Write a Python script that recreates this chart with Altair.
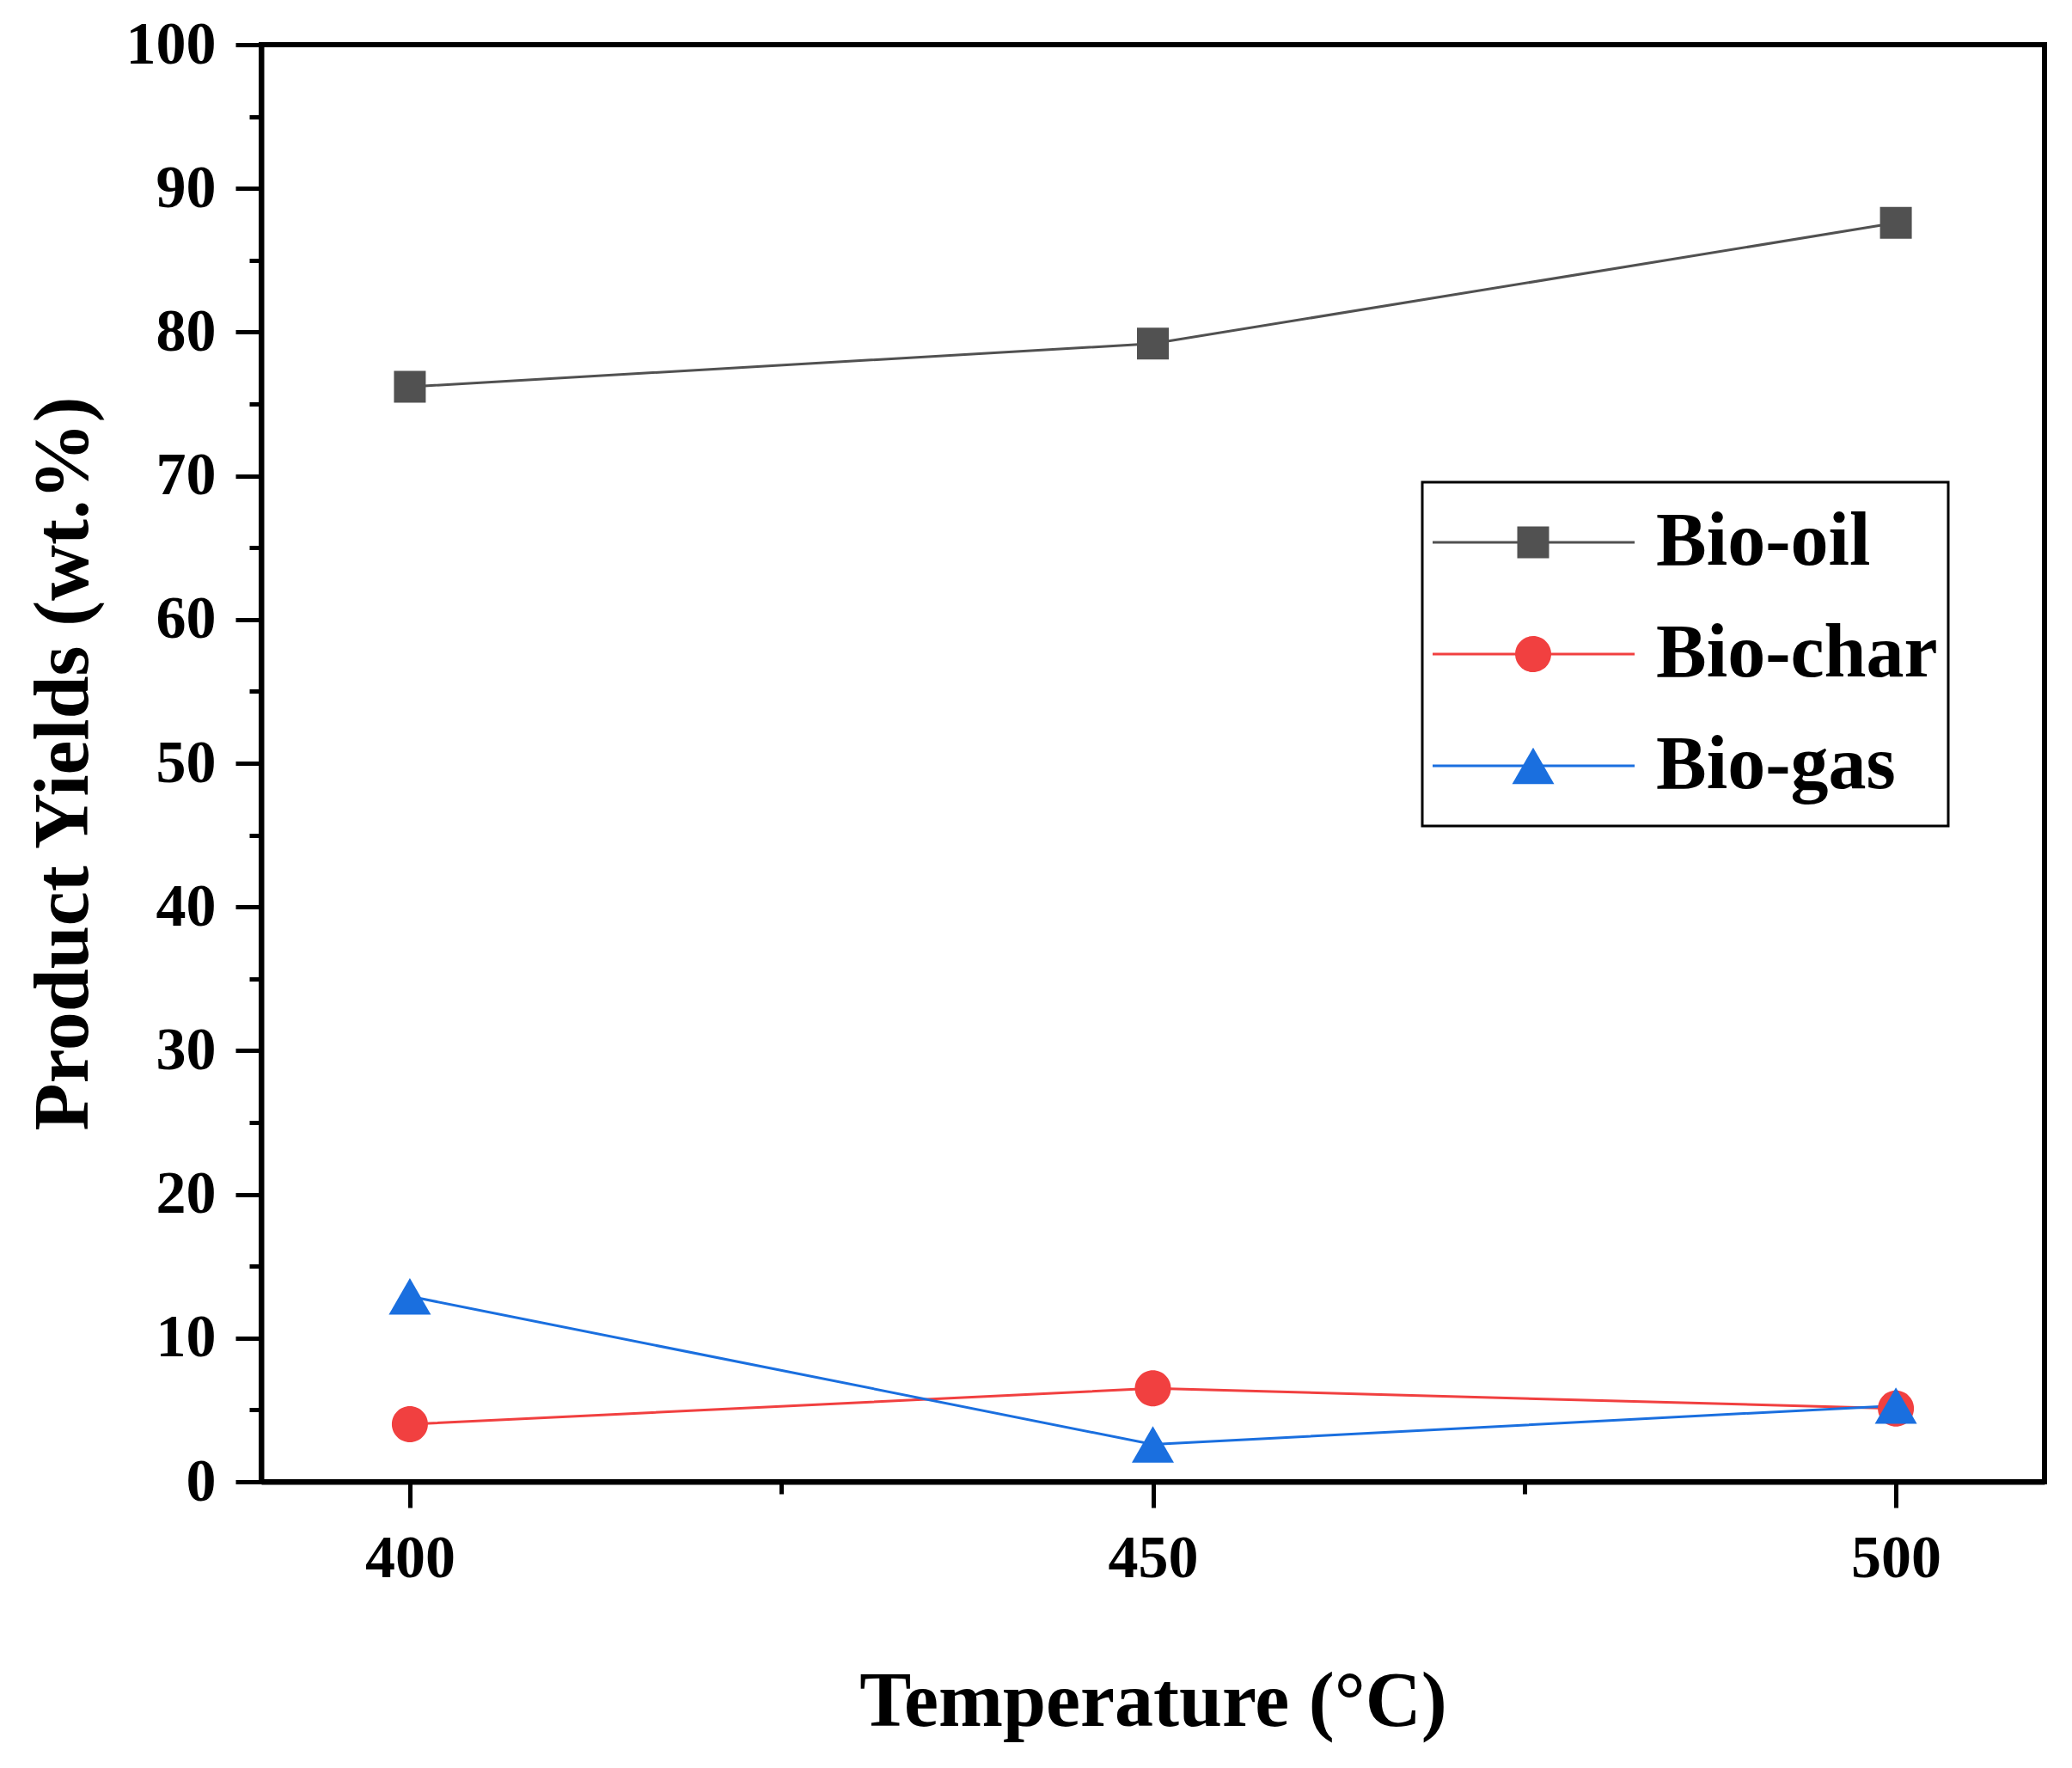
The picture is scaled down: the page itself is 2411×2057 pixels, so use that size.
import altair as alt
import pandas as pd

# ---- data ----
temperatures = [400, 450, 500]
series_names = ["Bio-oil", "Bio-char", "Bio-gas"]
bio_oil = [76.2, 79.2, 87.6]
bio_char = [4.0, 6.5, 5.1]
bio_gas = [12.9, 2.6, 5.3]
series_colors = ["#515151", "#F14040", "#1A6FDF"]

y_major = [0, 10, 20, 30, 40, 50, 60, 70, 80, 90, 100]
y_minor = [5, 15, 25, 35, 45, 55, 65, 75, 85, 95]
x_major = [400, 450, 500]
x_minor = [425, 475]

rows = []
for name, vals in zip(series_names, [bio_oil, bio_char, bio_gas]):
    for t, v in zip(temperatures, vals):
        rows.append({"Temperature": t, "Yield": v, "Series": name})
df = pd.DataFrame(rows)

FONT = "Liberation Serif"

# marker shapes (unit box, scaled by sqrt(size)/2)
SQUARE = "M-0.755,-0.755H0.755V0.755H-0.755Z"
CIRCLE = "M0.857,0A0.857,0.857,0,1,1,-0.857,0A0.857,0.857,0,1,1,0.857,0Z"
TRIANGLE = "M0,-0.866L1,0.866L-1,0.866Z"
LINE_SYMBOL = "M-4.82,0H4.82"

xscale = alt.Scale(domain=[390, 510], nice=False, zero=False)
yscale = alt.Scale(domain=[0, 100], nice=False, zero=False)
cscale = alt.Scale(domain=series_names, range=series_colors)
sscale = alt.Scale(domain=series_names, range=[SQUARE, CIRCLE, TRIANGLE])

common_legend = dict(
    orient="none", legendX=1351, legendY=509, padding=12, rowPadding=14,
    clipHeight=116,
    symbolSize=2401, symbolOffset=73, labelOffset=99,
    labelFont=FONT, labelFontSize=88, labelFontWeight="bold",
    labelLimit=1000, labelColor="black",
)
legend_lines = alt.Legend(
    **common_legend, symbolType=LINE_SYMBOL, symbolStrokeWidth=3,
    strokeColor="black", fillColor="white", zindex=1,
)
legend_marks = alt.Legend(
    **common_legend, symbolStrokeWidth=0, labelOpacity=0, symbolOpacity=1, zindex=2,
)

x_axis_major = alt.Axis(
    values=x_major, format="d", tickSize=30, tickWidth=5, domainWidth=6,
    labelFont=FONT, labelFontSize=70, labelFontWeight="bold", labelPadding=25,
    labelColor="black", tickColor="black", domainColor="black",
    title="Temperature (°C)", titleFont=FONT, titleFontSize=90,
    titleFontWeight="bold", titleColor="black", titleY=283,
    titleBaseline="alphabetic", grid=False,
)
x_axis_minor = alt.Axis(
    values=x_minor, orient="bottom", tickSize=14, tickWidth=5, labels=False,
    domain=False, tickColor="black", title=None, grid=False,
)
y_axis_major = alt.Axis(
    values=y_major, tickSize=30, tickWidth=5, domainWidth=6,
    labelFont=FONT, labelFontSize=70, labelFontWeight="bold", labelPadding=23,
    labelColor="black", tickColor="black", domainColor="black",
    title="Product Yields (wt.%)", titleFont=FONT, titleFontSize=90,
    titleFontWeight="bold", titleColor="black", titleX=-230,
    titleBaseline="middle", grid=False,
)
y_axis_minor = alt.Axis(
    values=y_minor, orient="left", tickSize=14, tickWidth=5, labels=False,
    domain=False, tickColor="black", title=None, grid=False,
)

lines = alt.Chart(df).mark_line(strokeWidth=3).encode(
    x=alt.X("Temperature:Q", scale=xscale, axis=x_axis_major),
    y=alt.Y("Yield:Q", scale=yscale, axis=y_axis_major),
    color=alt.Color("Series:N", scale=cscale, legend=legend_lines, title=None),
)

points = alt.Chart(df).mark_point(filled=True, size=2401, opacity=1, strokeWidth=0).encode(
    x=alt.X("Temperature:Q", scale=xscale, axis=x_axis_minor),
    y=alt.Y("Yield:Q", scale=yscale, axis=y_axis_minor),
    color=alt.Color("Series:N", scale=cscale, legend=legend_marks, title=None),
    shape=alt.Shape("Series:N", scale=sscale, legend=legend_marks, title=None),
)

chart = (
    alt.layer(lines, points)
    .resolve_axis(x="independent", y="independent")
    .resolve_legend(color="independent", shape="independent")
    .properties(
        width=2075, height=1672,
        autosize=alt.AutoSizeParams(type="none"),
        padding={"left": 296, "top": 44, "right": 24, "bottom": 320},
        background="white",
    )
    .configure_view(stroke="black", strokeWidth=6)
    .configure_legend(strokeWidth=3)
)

chart.save("out.html", embed_options={"renderer": "svg", "actions": False})
